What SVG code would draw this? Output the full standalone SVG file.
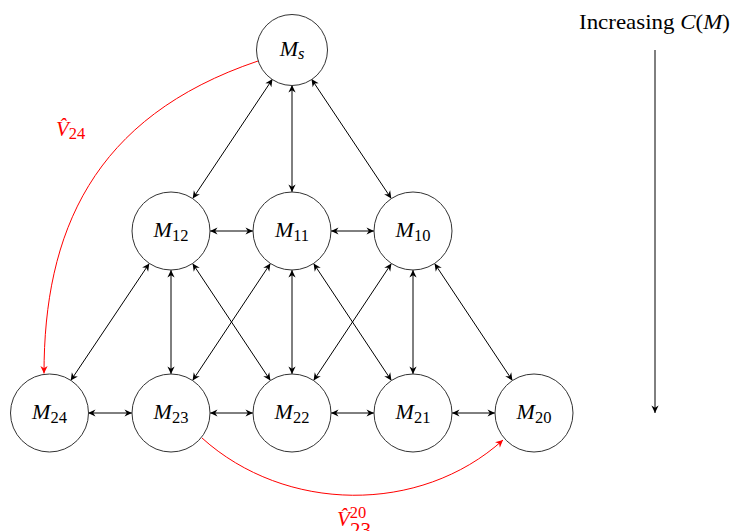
<svg xmlns="http://www.w3.org/2000/svg" width="734" height="531" viewBox="0 0 734 531">
<defs>
<marker id="ah" viewBox="-8 -4 9 8" refX="0" refY="0" markerWidth="9" markerHeight="8" markerUnits="userSpaceOnUse" orient="auto-start-reverse">
<path d="M0,0 L-7.5,-3.6 L-5.2,0 L-7.5,3.6 Z" fill="#000"/>
</marker>
<marker id="ahr" viewBox="-8 -4 9 8" refX="0" refY="0" markerWidth="9" markerHeight="8" markerUnits="userSpaceOnUse" orient="auto-start-reverse">
<path d="M0,0 L-7.5,-3.6 L-5.2,0 L-7.5,3.6 Z" fill="#ff0000"/>
</marker>
</defs>
<style>
.n{fill:#fff;stroke:#333;stroke-width:1}
.t{font-family:"Liberation Serif","Times New Roman",serif;font-size:21px;fill:#000}
.nl{font-size:22px}
.m{font-style:italic}
.s{font-size:16.5px}
.e{stroke:#000;stroke-width:1;fill:none;marker-start:url(#ah);marker-end:url(#ah)}
.r{stroke:#ff0000;stroke-width:1;fill:none;marker-end:url(#ahr)}
.rt{font-family:"Liberation Serif","Times New Roman",serif;font-size:21px;fill:#ff0000}
</style>
<rect width="734" height="531" fill="#fff"/>

<g id="connectors">
<line class="e" x1="272.5" y1="79.1" x2="192.7" y2="198.6"/>
<line class="e" x1="292" y1="85" x2="292" y2="192"/>
<line class="e" x1="311.5" y1="79.1" x2="391.3" y2="198.6"/>
<line class="e" x1="210" y1="231" x2="253" y2="231"/>
<line class="e" x1="331" y1="231" x2="374" y2="231"/>
<line class="e" x1="149.3" y1="263.4" x2="70.7" y2="380.6"/>
<line class="e" x1="171" y1="270" x2="171" y2="374"/>
<line class="e" x1="192.6" y1="263.5" x2="270.4" y2="380.5"/>
<line class="e" x1="270.4" y1="263.5" x2="192.6" y2="380.5"/>
<line class="e" x1="292" y1="270" x2="292" y2="374"/>
<line class="e" x1="313.6" y1="263.5" x2="391.4" y2="380.5"/>
<line class="e" x1="391.4" y1="263.5" x2="313.6" y2="380.5"/>
<line class="e" x1="413" y1="270" x2="413" y2="374"/>
<line class="e" x1="434.6" y1="263.5" x2="512.4" y2="380.5"/>
<line class="e" x1="88" y1="413" x2="132" y2="413"/>
<line class="e" x1="210" y1="413" x2="253" y2="413"/>
<line class="e" x1="331" y1="413" x2="374" y2="413"/>
<line class="e" x1="452" y1="413" x2="495" y2="413"/>
<path class="r" d="M258,61 C92,117 44,233 44,373.5"/>
<path class="r" d="M202,438 C285,513 420,515 503,440"/>
<line x1="655" y1="50" x2="655" y2="413" stroke="#000" stroke-width="1" marker-end="url(#ah)"/>
</g>

<g id="Ms"><circle class="n" cx="292" cy="50" r="35.5"/><text class="t nl" x="292" y="56" text-anchor="middle"><tspan class="m">M</tspan><tspan class="m s" dy="3">s</tspan></text></g>
<g id="M12"><circle class="n" cx="171" cy="231" r="39"/><text class="t nl" x="171" y="237" text-anchor="middle"><tspan class="m">M</tspan><tspan class="s" dy="4">12</tspan></text></g>
<g id="M11"><circle class="n" cx="292" cy="231" r="39"/><text class="t nl" x="292" y="237" text-anchor="middle"><tspan class="m">M</tspan><tspan class="s" dy="4">11</tspan></text></g>
<g id="M10"><circle class="n" cx="413" cy="231" r="39"/><text class="t nl" x="413" y="237" text-anchor="middle"><tspan class="m">M</tspan><tspan class="s" dy="4">10</tspan></text></g>
<g id="M24"><circle class="n" cx="49.5" cy="413" r="39"/><text class="t nl" x="49.5" y="419" text-anchor="middle"><tspan class="m">M</tspan><tspan class="s" dy="4">24</tspan></text></g>
<g id="M23"><circle class="n" cx="171" cy="413" r="39"/><text class="t nl" x="171" y="419" text-anchor="middle"><tspan class="m">M</tspan><tspan class="s" dy="4">23</tspan></text></g>
<g id="M22"><circle class="n" cx="292" cy="413" r="39"/><text class="t nl" x="292" y="419" text-anchor="middle"><tspan class="m">M</tspan><tspan class="s" dy="4">22</tspan></text></g>
<g id="M21"><circle class="n" cx="413" cy="413" r="39"/><text class="t nl" x="413" y="419" text-anchor="middle"><tspan class="m">M</tspan><tspan class="s" dy="4">21</tspan></text></g>
<g id="M20"><circle class="n" cx="534" cy="413" r="39"/><text class="t nl" x="534" y="419" text-anchor="middle"><tspan class="m">M</tspan><tspan class="s" dy="4">20</tspan></text></g>

<g id="label-V24"><text class="rt" x="56" y="136"><tspan class="m">V̂</tspan><tspan class="s" dy="3">24</tspan></text></g>
<g id="label-V23-20"><text class="rt" x="337" y="526"><tspan class="m">V̂</tspan><tspan class="s" dy="-8">20</tspan></text><text class="rt s" x="350" y="537">23</text></g>

<g id="label-increasing"><text class="t" x="579" y="29" textLength="151" lengthAdjust="spacingAndGlyphs">Increasing <tspan class="m">C</tspan>(<tspan class="m">M</tspan>)</text></g>
</svg>
